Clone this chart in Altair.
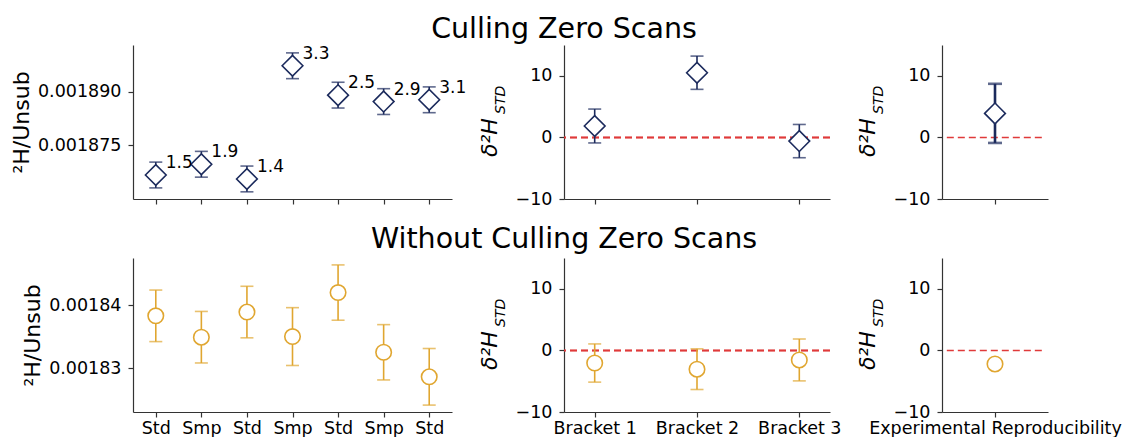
import json
import altair as alt
import pandas as pd

NAVY = "#1b2a5c"
GOLD = "#e0a630"
RED = "#e03a3a"
FONT = "DejaVu Sans"

# Injection order within the run
positions = ["1", "2", "3", "4", "5", "6", "7"]
order_labels = ["Std", "Smp", "Std", "Smp", "Std", "Smp", "Std"]

# 2H/Unsub ratios with zero scans culled
culled_ratio = [0.0018667, 0.0018697, 0.0018656, 0.0018972, 0.0018890, 0.0018872, 0.0018877]
culled_ratio_err = [0.0000036, 0.0000036, 0.0000036, 0.0000036, 0.0000036, 0.0000036, 0.0000036]
culled_ratio_text = ["1.5", "1.9", "1.4", "3.3", "2.5", "2.9", "3.1"]

# 2H/Unsub ratios with all scans kept
raw_ratio = [0.0018383, 0.0018349, 0.0018389, 0.0018350, 0.0018420, 0.0018325, 0.0018286]
raw_ratio_err = [0.0000041, 0.0000041, 0.0000041, 0.0000046, 0.0000044, 0.0000044, 0.0000045]

# Bracketed delta values
brackets = ["Bracket 1", "Bracket 2", "Bracket 3"]
culled_delta = [1.85, 10.5, -0.6]
culled_delta_err = [2.75, 2.7, 2.7]
raw_delta = [-2.05, -3.05, -1.55]
raw_delta_err = [3.1, 3.3, 3.4]

# Experimental reproducibility
repro_label = "Experimental Reproducibility"
repro_culled = [3.9]
repro_culled_err = [4.8]
repro_raw = [-2.2]

row_titles = ["Culling Zero Scans", "Without Culling Zero Scans"]

W1, W2, W3 = 319, 266, 106
H = 154


def frame(xs, vals, errs, texts=None):
    d = pd.DataFrame({"x": xs, "v": vals})
    if errs is not None:
        d["lo"] = [v - e for v, e in zip(vals, errs)]
        d["hi"] = [v + e for v, e in zip(vals, errs)]
    if texts is not None:
        d["t"] = texts
    return d


def markers(base, color, shape, size):
    return base.mark_point(shape=shape, size=size, filled=True, fill="white",
                           stroke=color, strokeWidth=1.6, opacity=1)


def errorbars(base, color, y, width=1.6, cap=13):
    bar = base.mark_rule(color=color, strokeWidth=width).encode(y=y, y2="hi:Q")
    lo = base.mark_tick(color=color, size=cap, thickness=width, orient="horizontal").encode(y=alt.Y("lo:Q"))
    hi = base.mark_tick(color=color, size=cap, thickness=width, orient="horizontal").encode(y=alt.Y("hi:Q"))
    return [bar, lo, hi]


def delta_title():
    main = alt.Chart(pd.DataFrame({"t": ["δ²H"]})).mark_text(
        angle=270, align="left", baseline="alphabetic", font=FONT,
        fontStyle="italic", fontSize=22, color="black"
    ).encode(text="t:N", x=alt.value(-67), y=alt.value(H / 2 + 35))
    sub = alt.Chart(pd.DataFrame({"t": ["STD"]})).mark_text(
        angle=270, align="left", baseline="alphabetic", font=FONT,
        fontStyle="italic", fontSize=14, color="black"
    ).encode(text="t:N", x=alt.value(-59), y=alt.value(H / 2 - 8))
    return [main, sub]


def row_title(text, gap):
    # centred on the left edge of the middle column, which sits on the figure centre
    return alt.Chart(pd.DataFrame({"t": [text]})).mark_text(
        align="center", baseline="alphabetic", font=FONT, fontSize=28.5, color="black"
    ).encode(text="t:N", x=alt.value(0), y=alt.value(-gap))


label_expr = json.dumps(order_labels) + "[toNumber(datum.value) - 1]"


def ratio_panel(vals, errs, color, shape, size, domain, ticks, fmt, show_labels, texts=None):
    d = frame(positions, vals, errs, texts)
    x = alt.X("x:N", scale=alt.Scale(type="point", padding=0.5, domain=positions),
              axis=alt.Axis(title=None, labels=show_labels, labelExpr=label_expr, labelAngle=0))
    ys = alt.Scale(domain=domain, nice=False, zero=False)
    ya = alt.Axis(values=ticks, format=fmt, title="²H/Unsub")
    base = alt.Chart(d).encode(x=x)
    layers = errorbars(base, color, alt.Y("lo:Q", scale=ys, axis=ya))
    layers.append(markers(base, color, shape, size).encode(y=alt.Y("v:Q")))
    if texts is not None:
        layers.append(base.mark_text(align="left", baseline="middle", dx=10, dy=-12,
                                     fontSize=17, font=FONT, color="black").encode(y="v:Q", text="t:N"))
    return alt.layer(*layers).properties(width=W1, height=H)


delta_y_scale = alt.Scale(domain=[-10, 15], nice=False, zero=False)
delta_y_axis = alt.Axis(values=[-10, 0, 10], title=None)


def bracket_panel(vals, errs, color, shape, size, show_labels, title, gap):
    d = frame(brackets, vals, errs)
    x = alt.X("x:N", scale=alt.Scale(type="point", padding=0.3, domain=brackets),
              axis=alt.Axis(title=None, labels=show_labels, labelAngle=0))
    base = alt.Chart(d).encode(x=x)
    zero = alt.Chart(d).mark_rule(color=RED, strokeDash=[7, 4], strokeWidth=1.5).encode(
        y=alt.datum(0, scale=delta_y_scale, axis=delta_y_axis))
    layers = [zero]
    layers += errorbars(base, color, alt.Y("lo:Q"))
    layers.append(markers(base, color, shape, size).encode(y=alt.Y("v:Q")))
    layers += delta_title()
    layers.append(row_title(title, gap))
    return alt.layer(*layers).properties(width=W2, height=H)


def repro_panel(vals, errs, color, shape, size, show_labels, bar_width):
    d = frame([0], vals, errs)
    xs = alt.Scale(domain=[-0.55, 0.55], nice=False, zero=False)
    xa = alt.Axis(title=None, values=[0], labels=show_labels,
                  labelExpr=json.dumps(repro_label), labelFlush=False)
    zero = alt.Chart(pd.DataFrame({"a": [-0.5], "b": [0.5], "z": [0]})).mark_rule(
        color=RED, strokeDash=[7, 4], strokeWidth=1.5
    ).encode(x=alt.X("a:Q", scale=xs, axis=xa), x2="b:Q",
             y=alt.Y("z:Q", scale=delta_y_scale, axis=delta_y_axis))
    base = alt.Chart(d).encode(x=alt.X("x:Q"))
    layers = [zero]
    if errs is not None:
        layers += errorbars(base, color, alt.Y("lo:Q"), width=bar_width, cap=14)
    layers.append(markers(base, color, shape, size).encode(y=alt.Y("v:Q")))
    layers += delta_title()
    return alt.layer(*layers).properties(width=W3, height=H)


panels = [
    ratio_panel(culled_ratio, culled_ratio_err, NAVY, "diamond", 430,
                [0.00186, 0.001903], [0.001875, 0.00189], ".6f", False, culled_ratio_text),
    bracket_panel(culled_delta, culled_delta_err, NAVY, "diamond", 430, False, row_titles[0], 7),
    repro_panel(repro_culled, repro_culled_err, NAVY, "diamond", 430, False, 2.6),
    ratio_panel(raw_ratio, raw_ratio_err, GOLD, "circle", 240,
                [0.001823, 0.0018475], [0.00183, 0.00184], ".5f", True),
    bracket_panel(raw_delta, raw_delta_err, GOLD, "circle", 240, True, row_titles[1], 10),
    repro_panel(repro_raw, None, GOLD, "circle", 240, True, 1.6),
]

chart = alt.concat(
    *panels, columns=3, bounds="flush",
    spacing=alt.RowColnumber(row=59, column=112),
).properties(
    padding={"left": 10, "top": 15, "right": 2, "bottom": 2}
).configure_view(strokeWidth=0).configure_axis(
    grid=False,
    domainColor="#333333",
    domainWidth=1.2,
    tickColor="#333333",
    tickWidth=1.2,
    tickSize=5,
    labelFont=FONT,
    labelFontSize=17.5,
    labelColor="black",
    labelLimit=400,
    titleFont=FONT,
    titleFontSize=22,
    titleFontWeight="normal",
    titleColor="black",
    titlePadding=4,
).configure_axisX(
    labelPadding=2,
).configure_axisY(
    labelPadding=7,
)

chart.save("out.html", embed_options={"renderer": "svg", "actions": False})
